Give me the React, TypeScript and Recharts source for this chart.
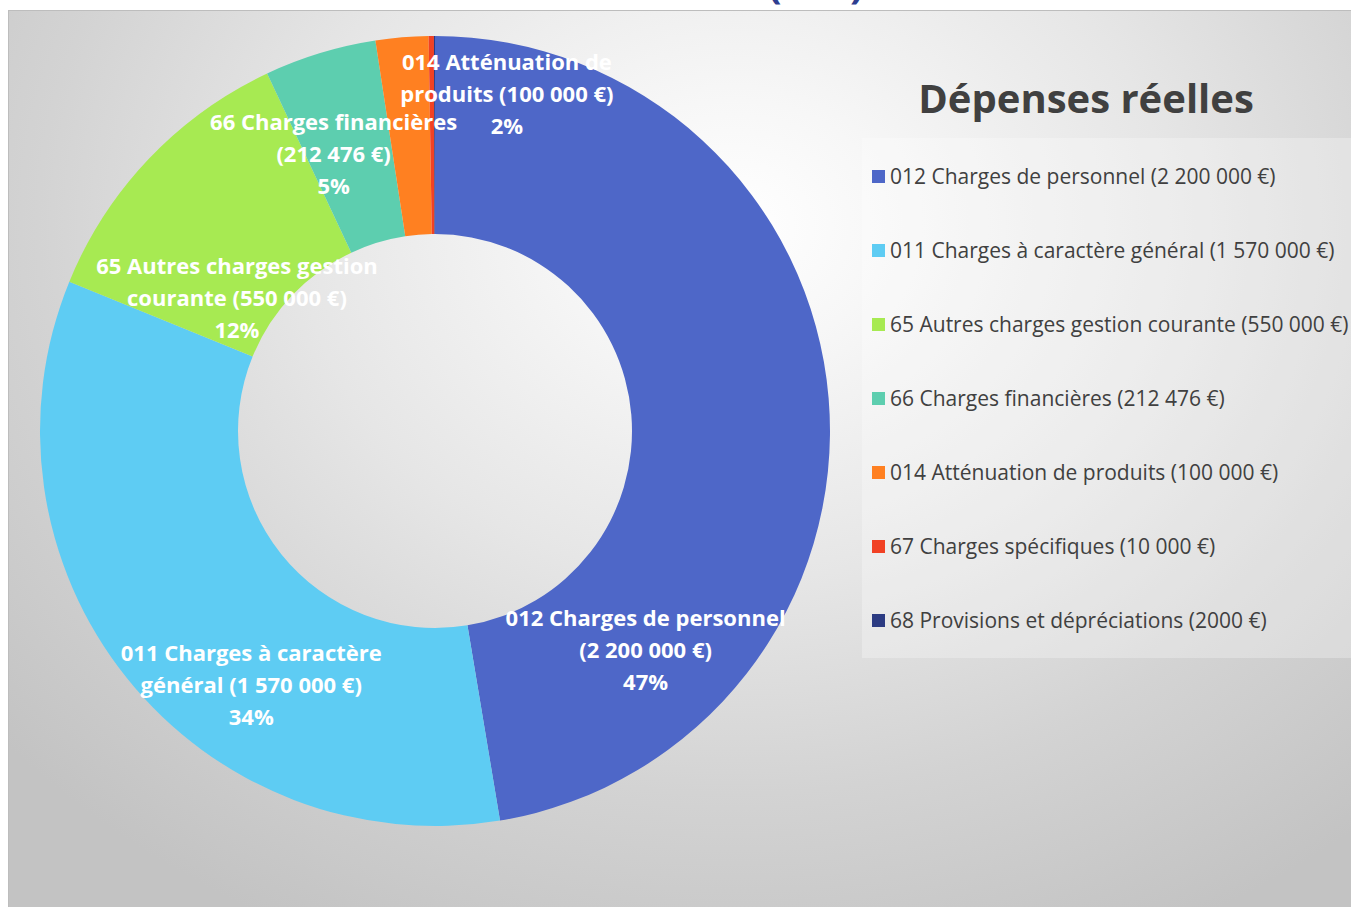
import React from 'react';
import { PieChart, Pie, Cell, Legend } from 'recharts';

// Dépenses réelles — montants en euros
const categories = [
  '012 Charges de personnel',
  '011 Charges à caractère général',
  '65 Autres charges gestion courante',
  '66 Charges financières',
  '014 Atténuation de produits',
  '67 Charges spécifiques',
  '68 Provisions et dépréciations',
];
const amounts = [2200000, 1570000, 550000, 212476, 100000, 10000, 2000];
const colors = ['#4E67C8', '#5ECCF3', '#A7EA52', '#5DCEAF', '#FF8021', '#F14124', '#2C3B82'];

// where Excel put each data label: turn (deg, clockwise) from the slice middle and radius share
const labelSpots = [
  { turn: 50.7, r: 0.767 },
  { turn: -15.4, r: 0.792 },
  { turn: -9.5, r: 0.605 },
  { turn: -3.1, r: 0.75 },
  { turn: 16.8, r: 0.876 },
  null,
  null,
];

const data = categories.map((name, i) => ({ name, value: amounts[i] }));

const euro = (v: number) => {
  const s = String(v);
  if (v < 10000) return s + ' €';
  return s.replace(/\B(?=(\d{3})+(?!\d))/g, ' ') + ' €';
};

const wrap = (text: string, max: number) => {
  const lines: string[] = [];
  let cur = '';
  text.split(' ').forEach((w) => {
    const next = cur ? cur + ' ' + w : w;
    if (next.length > max && cur) {
      lines.push(cur);
      cur = w;
    } else cur = next;
  });
  if (cur) lines.push(cur);
  return lines;
};

const FONT = '"Open Sans", sans-serif';

const renderLabel = (props: any) => {
  const { cx, cy, midAngle, outerRadius, index, percent } = props;
  const spot = labelSpots[index];
  if (!spot) return null;
  const theta = ((90 - midAngle + spot.turn) * Math.PI) / 180;
  const r = outerRadius * spot.r;
  const x = cx + r * Math.sin(theta);
  const y = cy - r * Math.cos(theta);
  const lines = wrap(`${categories[index]} (${euro(amounts[index])})`, 25);
  lines.push(Math.round(percent * 100) + '%');
  const start = y - ((lines.length - 1) * 32) / 2;
  return (
    <text
      x={x}
      y={start}
      textAnchor="middle"
      dominantBaseline="central"
      fill="#ffffff"
      fontFamily={FONT}
      fontWeight={700}
      fontSize={22}
    >
      {lines.map((l, i) => (
        <tspan key={i} x={x} y={start + i * 32}>
          {l}
        </tspan>
      ))}
    </text>
  );
};

const LegendBox = () => (
  <div
    style={{
      width: 489,
      height: 520,
      background: 'rgba(255,255,255,0.28)',
      paddingTop: 1,
      boxSizing: 'border-box',
      fontFamily: FONT,
      fontSize: 21,
      color: '#404040',
    }}
  >
    {categories.map((c, i) => (
      <div key={c} style={{ height: 74, display: 'flex', alignItems: 'center', whiteSpace: 'nowrap' }}>
        <span style={{ width: 13, height: 13, background: colors[i], marginLeft: 10, marginRight: 5, flex: 'none' }} />
        <span>{`${c} (${euro(amounts[i])})`}</span>
      </div>
    ))}
  </div>
);

export default function App() {
  return (
    <div style={{ position: 'absolute', left: 0, top: 0, width: 1351, height: 907, background: '#fff', overflow: 'hidden' }}>
      <style>{`.recharts-pie-sectors { filter: drop-shadow(0 4px 10px rgba(0,0,0,0.42)); }`}</style>
      <svg width={1351} height={10} style={{ position: 'absolute', left: 0, top: 0 }}>
        <text y={-2} fill="#2E3D8F" fontFamily={FONT} fontWeight={700} fontSize={40}>
          <tspan x={768}>(</tspan>
          <tspan x={850}>)</tspan>
        </text>
      </svg>
      <div
        style={{
          position: 'absolute',
          left: 8,
          top: 10,
          width: 1343,
          height: 897,
          boxSizing: 'border-box',
          borderTop: '1px solid #bdbdbd',
          borderLeft: '1px solid #bdbdbd',
          background:
            'radial-gradient(ellipse 72% 88% at 54% 24%, #ffffff 0%, #f7f7f7 16%, #e6e6e6 45%, #d3d3d3 72%, #c3c3c3 100%)',
        }}
      >
        <div
          style={{
            position: 'absolute',
            left: 827,
            top: 62,
            width: 500,
            textAlign: 'center',
            fontFamily: FONT,
            fontWeight: 700,
            fontSize: 40,
            lineHeight: '50px',
            color: '#404040',
          }}
        >
          Dépenses réelles
        </div>
        <PieChart width={1342} height={896} margin={{ top: 0, right: 0, bottom: 0, left: 0 }}>
          <Pie
            data={data}
            dataKey="value"
            nameKey="name"
            cx={426}
            cy={420}
            innerRadius={197}
            outerRadius={395}
            startAngle={90}
            endAngle={-270}
            stroke="none"
            label={renderLabel}
            labelLine={false}
            isAnimationActive={false}
          >
            {data.map((d, i) => (
              <Cell key={d.name} fill={colors[i]} />
            ))}
          </Pie>
          <Legend
            layout="vertical"
            align="right"
            verticalAlign="top"
            content={() => <LegendBox />}
            wrapperStyle={{ top: 127, right: 0, width: 489, height: 520 }}
          />
        </PieChart>
      </div>
    </div>
  );
}
